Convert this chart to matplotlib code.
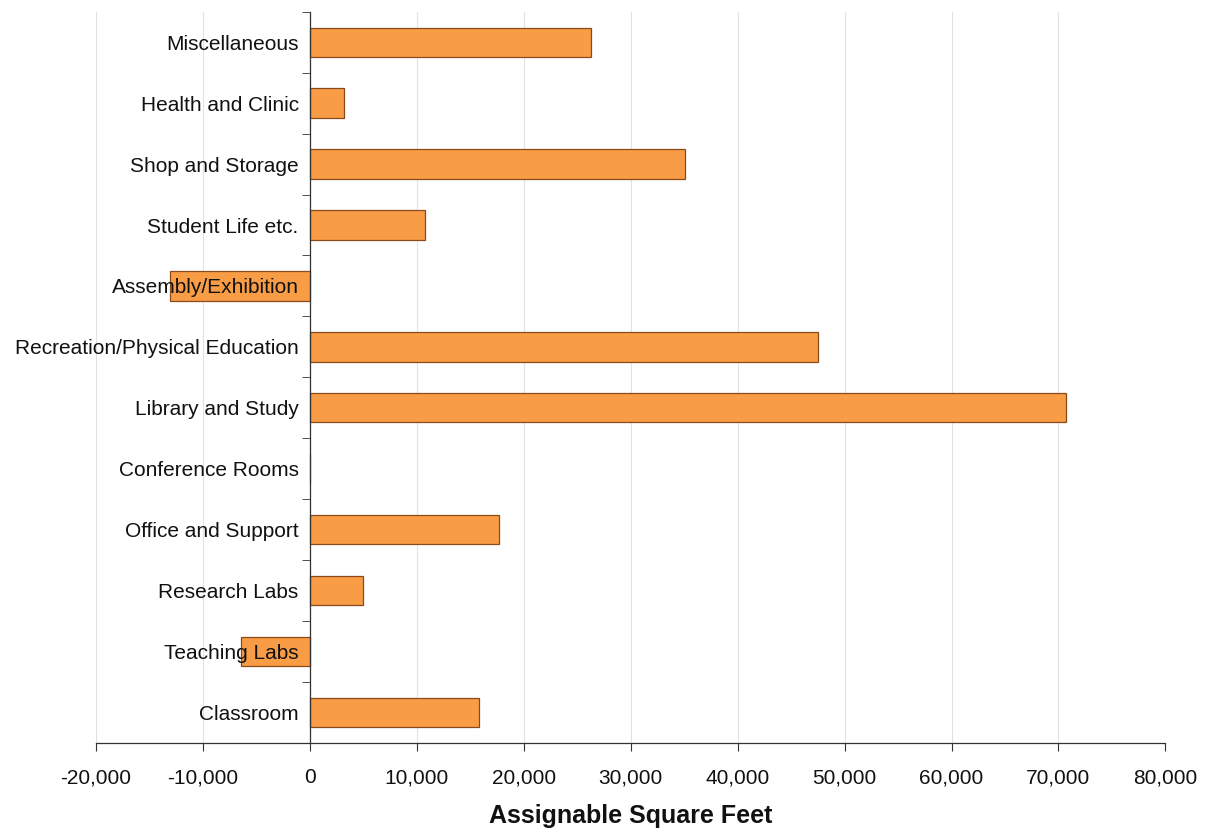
import matplotlib
matplotlib.use("Agg")
import matplotlib.pyplot as plt
from matplotlib.ticker import FuncFormatter, MultipleLocator, FixedLocator

plt.rcParams['font.family'] = ['Liberation Sans', 'DejaVu Sans']

categories = ["Classroom", "Teaching Labs", "Research Labs", "Office and Support",
              "Conference Rooms", "Library and Study", "Recreation/Physical Education",
              "Assembly/Exhibition", "Student Life etc.", "Shop and Storage",
              "Health and Clinic", "Miscellaneous"]
values = [15800, -6400, 4950, 17700, 0, 70700, 47500, -13100, 10750, 35100, 3200, 26300]
xlabel = "Assignable Square Feet"

fig = plt.figure(figsize=(12.14, 8.34), dpi=100)
ax = fig.add_axes([0.079, 0.109, 0.881, 0.877])

ypos = list(range(len(categories)))
ax.barh(ypos, values, height=0.48, color="#F99C46", edgecolor="#8A4A1C",
        linewidth=0.9, zorder=1)

ax.set_xlim(-20000, 80000)
ax.set_ylim(-0.5, len(categories) - 0.5)
ax.xaxis.set_major_locator(MultipleLocator(10000))
ax.xaxis.set_major_formatter(FuncFormatter(lambda v, p: f"{int(v):,}"))
for xv in ax.get_xticks():
    if -20000 <= xv <= 80000:
        ax.axvline(xv, color="#E2E2E2", lw=0.8, zorder=0)

ax.set_yticks(ypos)
ax.set_yticklabels(categories)
ax.yaxis.set_minor_locator(FixedLocator([i - 0.5 for i in range(len(categories) + 1)]))
ax.tick_params(axis='y', which='major', length=0, pad=8, labelsize=15, colors='#111111')
ax.tick_params(axis='y', which='minor', length=6, direction='out', color='#333333')
ax.tick_params(axis='x', which='major', length=6, direction='out', labelsize=15,
               pad=12, color='#333333', labelcolor='#111111')

ax.spines['left'].set_position(('data', 0))
ax.spines['top'].set_visible(False)
ax.spines['right'].set_visible(False)
for s in ('left', 'bottom'):
    ax.spines[s].set_color('#333333')
    ax.spines[s].set_linewidth(0.9)

ax.set_xlabel(xlabel, fontsize=18, fontweight='bold', labelpad=12, color='#111111')

fig.savefig("out.png", dpi=100)
